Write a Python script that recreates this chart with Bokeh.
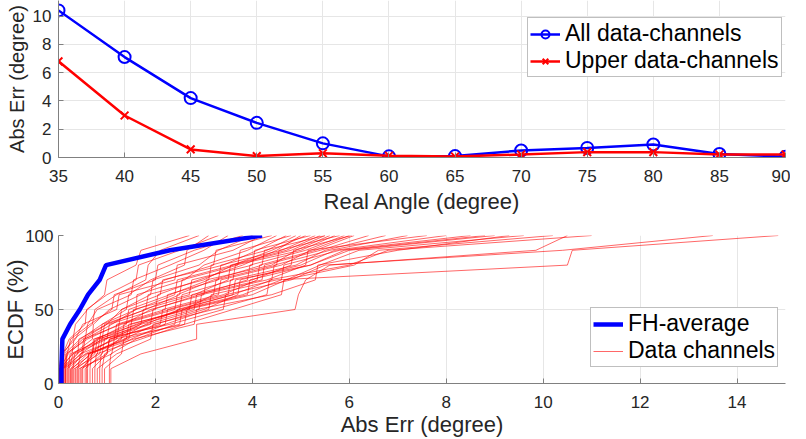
from bokeh.plotting import figure
from bokeh.layouts import column
from bokeh.models import Legend, LegendItem, FixedTicker, Range1d
from bokeh.embed import file_html
from bokeh.resources import INLINE

# ---------------- data: top panel ----------------
angles = [35, 40, 45, 50, 55, 60, 65, 70, 75, 80, 85, 90]
err_all = [10.4, 7.1, 4.2, 2.45, 1.0, 0.08, 0.1, 0.5, 0.68, 0.92, 0.25, 0.05]
err_upper = [6.8, 2.97, 0.57, 0.1, 0.3, 0.12, 0.07, 0.21, 0.38, 0.38, 0.21, 0.21]

# ---------------- data: bottom panel (sorted abs errors per channel) ----------------
ecdf_levels = [0, 10, 20, 30, 40, 50, 60, 70, 80, 90, 100]
fh_average = [0.06, 0.07, 0.08, 0.24, 0.44, 0.61, 0.85, 0.98, 2.3, 4.2]

ch01 = [0.02, 0.10, 0.30, 0.35, 0.60, 0.95, 1.00, 1.60, 1.70, 2.70]
ch02 = [0.05, 0.28, 0.32, 0.70, 0.75, 1.20, 1.80, 1.85, 2.10, 2.90]
ch03 = [0.10, 0.12, 0.45, 0.90, 1.40, 1.45, 1.90, 2.60, 2.65, 3.10]
ch04 = [0.03, 0.20, 0.55, 0.60, 0.80, 1.50, 1.55, 2.30, 3.00, 3.50]
ch05 = [0.15, 0.18, 0.25, 0.65, 1.10, 1.15, 2.00, 2.05, 2.80, 3.80]
ch06 = [0.08, 0.40, 0.42, 1.00, 1.30, 1.90, 1.95, 2.90, 3.30, 4.00]
ch07 = [0.01, 0.06, 0.35, 0.50, 1.20, 1.25, 2.40, 2.45, 3.60, 4.20]
ch08 = [0.22, 0.30, 0.70, 0.72, 1.05, 1.70, 2.20, 3.20, 3.25, 4.40]
ch09 = [0.06, 0.09, 0.22, 0.55, 0.58, 1.00, 1.60, 1.65, 2.50, 3.30]
ch10 = [0.25, 0.50, 0.55, 1.10, 1.60, 1.62, 2.60, 3.00, 3.90, 4.50]
ch11 = [0.12, 0.15, 0.60, 1.25, 1.30, 2.10, 2.15, 3.40, 4.10, 4.70]
ch12 = [0.40, 0.45, 0.90, 0.95, 1.80, 2.50, 2.55, 3.70, 3.75, 4.80]
ch13 = [0.05, 0.38, 0.80, 1.40, 1.45, 2.30, 3.10, 3.15, 4.30, 4.90]
ch14 = [0.30, 0.33, 1.00, 1.05, 2.00, 2.05, 2.90, 3.80, 4.50, 5.00]
ch15 = [0.50, 0.70, 0.75, 1.50, 1.55, 2.70, 2.75, 4.00, 4.05, 5.20]
ch16 = [0.18, 0.55, 1.15, 1.20, 2.20, 2.25, 3.30, 3.35, 4.60, 5.30]
ch17 = [0.60, 0.62, 1.10, 1.70, 1.75, 2.80, 3.50, 3.55, 4.70, 5.40]
ch18 = [0.08, 0.48, 0.52, 1.30, 2.40, 2.45, 3.20, 4.20, 4.25, 5.50]
ch19 = [0.35, 0.65, 1.30, 1.35, 1.90, 3.00, 3.05, 4.40, 4.90, 5.60]
ch20 = [0.85, 0.88, 1.25, 1.80, 2.50, 2.55, 3.60, 3.65, 5.00, 5.70]
ch21 = [0.45, 0.80, 0.85, 1.60, 2.60, 3.20, 3.25, 4.50, 4.55, 5.80]
ch22 = [0.20, 0.24, 0.95, 1.90, 1.95, 2.90, 3.90, 3.95, 5.10, 5.90]
ch23 = [0.70, 1.00, 1.05, 2.10, 2.15, 3.30, 3.35, 4.60, 5.20, 6.00]
ch24 = [0.28, 0.60, 1.40, 1.45, 2.70, 2.75, 4.00, 4.80, 4.85, 6.05]
ch25 = [0.90, 0.95, 1.50, 2.20, 2.25, 3.40, 4.10, 4.15, 5.30, 6.10]
ch26 = [0.02, 0.30, 0.85, 0.90, 1.60, 2.40, 2.45, 3.60, 4.40, 5.10]
ch27 = [0.14, 0.17, 0.50, 1.00, 1.80, 1.85, 3.00, 3.60, 4.80, 5.50]
ch28 = [0.55, 0.90, 0.95, 1.70, 2.80, 2.85, 4.20, 4.25, 5.40, 6.40]
ch29 = [0.15, 0.45, 1.20, 1.25, 2.30, 3.50, 3.55, 4.90, 5.50, 6.75]
ch30 = [1.05, 1.08, 1.60, 2.40, 2.45, 3.60, 4.40, 4.45, 5.60, 7.20]
ch31 = [0.38, 0.75, 0.80, 1.85, 2.90, 2.95, 4.30, 5.10, 5.15, 7.60]
ch32 = [0.65, 0.68, 1.35, 2.00, 3.00, 3.70, 3.75, 5.00, 5.70, 8.00]
ch33 = [0.95, 1.30, 1.35, 2.50, 2.55, 3.80, 4.60, 4.65, 5.80, 8.50]
ch34 = [0.10, 0.58, 1.45, 1.50, 2.60, 3.90, 3.95, 5.20, 6.00, 9.00]
ch35 = [0.75, 0.78, 1.70, 2.60, 2.65, 4.00, 4.70, 5.40, 6.20, 9.60]
ch36 = [1.08, 1.70, 2.85, 2.85, 4.88, 4.95, 5.10, 5.60, 9.85, 10.50]
ch37 = [0.48, 1.00, 1.05, 2.20, 3.10, 3.15, 4.50, 10.50, 10.60, 14.85]
ch38 = [0.80, 1.20, 1.90, 1.95, 3.20, 4.30, 4.35, 6.00, 6.80, 11.00]
ch39 = [0.32, 0.85, 0.90, 2.30, 3.40, 3.45, 4.80, 5.50, 10.40, 13.50]
ch40 = [0.58, 0.62, 1.55, 2.80, 2.85, 4.40, 5.30, 5.35, 7.00, 9.30]
ch41 = [0.42, 1.10, 1.15, 2.60, 3.60, 4.60, 4.65, 6.10, 6.60, 10.20]
ch42 = [0.26, 0.70, 0.72, 1.65, 2.50, 3.60, 3.65, 5.20, 5.90, 8.80]

channels = [ch01, ch02, ch03, ch04, ch05, ch06, ch07, ch08, ch09, ch10,
            ch11, ch12, ch13, ch14, ch15, ch16, ch17, ch18, ch19, ch20,
            ch21, ch22, ch23, ch24, ch25, ch26, ch27, ch28, ch29, ch30,
            ch31, ch32, ch33, ch34, ch35, ch36, ch37, ch38, ch39, ch40,
            ch41, ch42]

x_ticks_top = [35, 40, 45, 50, 55, 60, 65, 70, 75, 80, 85, 90]
y_ticks_top = [0, 2, 4, 6, 8, 10]
x_ticks_bot = [0, 2, 4, 6, 8, 10, 12, 14]
y_ticks_bot = [0, 50, 100]

FONT = "Liberation Sans"
TXT = "#262626"
AXC = "#808080"
GRID = "#e6e6e6"


def style(p, xt, yt, lab_std_x, lab_std_y, ttl_std_x, ttl_std_y, ytitle_size):
    p.outline_line_color = None
    p.xaxis.ticker = FixedTicker(ticks=xt)
    p.yaxis.ticker = FixedTicker(ticks=yt)
    for ax in (p.xaxis[0], p.yaxis[0]):
        ax.axis_line_color = AXC
        ax.major_tick_line_color = AXC
        ax.major_tick_in = 5
        ax.major_tick_out = 0
        ax.minor_tick_line_color = None
        ax.major_label_text_font = FONT
        ax.major_label_text_font_size = "17px"
        ax.major_label_text_color = TXT
        ax.axis_label_text_font = FONT
        ax.axis_label_text_font_size = "22px"
        ax.axis_label_text_font_style = "normal"
        ax.axis_label_text_color = TXT
    p.yaxis.axis_label_text_font_size = ytitle_size
    p.xaxis.major_label_standoff = lab_std_x
    p.yaxis.major_label_standoff = lab_std_y
    p.xaxis.axis_label_standoff = ttl_std_x
    p.yaxis.axis_label_standoff = ttl_std_y
    p.xgrid.ticker = FixedTicker(ticks=xt)
    p.ygrid.ticker = FixedTicker(ticks=yt)
    p.grid.grid_line_color = GRID
    p.grid.grid_line_width = 1


def style_legend(lg, x, y):
    lg.location = (x, y)
    lg.label_text_font = FONT
    lg.label_text_font_size = "23px"
    lg.label_text_color = "black"
    lg.padding = 2
    lg.spacing = 0
    lg.margin = 0
    lg.glyph_width = 30
    lg.label_standoff = 5
    lg.border_line_color = "#7f7f7f"
    lg.border_line_width = 1
    lg.background_fill_color = "white"
    lg.background_fill_alpha = 1.0


LEFT = 52

# ---------------- top figure ----------------
p1 = figure(width=790, height=220, output_backend="svg", toolbar_location=None,
            x_range=Range1d(35, 90), y_range=Range1d(0, 11.1),
            min_border_left=LEFT, min_border_right=1, min_border_top=0,
            min_border_bottom=63)
style(p1, x_ticks_top, y_ticks_top, 12, 7, 4, 2, "20px")
p1.xaxis.axis_label = "Real Angle (degree)"
p1.yaxis.axis_label = "Abs Err (degree)"

l_all = p1.line(angles, err_all, line_color="#0000ff", line_width=2.5)
s_all = p1.scatter(angles, err_all, marker="circle", size=12, line_color="#0000ff",
                   line_width=2, fill_color=None)
l_up = p1.line(angles, err_upper, line_color="#ff0000", line_width=2.5)
s_up = p1.scatter(angles, err_upper, marker="x", size=11, line_color="#ff0000",
                  line_width=2)

lg1 = Legend(items=[LegendItem(label="All data-channels", renderers=[l_all, s_all]),
                    LegendItem(label="Upper data-channels", renderers=[l_up, s_up])])
style_legend(lg1, 469, 80)
p1.add_layout(lg1, "center")

# ---------------- bottom figure ----------------
p2 = figure(width=790, height=219, output_backend="svg", toolbar_location=None,
            x_range=Range1d(0, 15), y_range=Range1d(0, 100),
            min_border_left=LEFT, min_border_right=5, min_border_top=15,
            min_border_bottom=56)
style(p2, x_ticks_bot, y_ticks_bot, 12, 5, 1, -6, "22px")
p2.xaxis.axis_label = "Abs Err (degree)"
p2.yaxis.axis_label = "ECDF (%)"

xs = [[c[0]] + list(c) for c in channels]
ys = [list(ecdf_levels) for _ in channels]
r_red = p2.multi_line(xs, ys, line_color="#ff0000", line_width=0.6)
r_blue = p2.line([fh_average[0]] + fh_average, ecdf_levels, line_color="#0000ff",
                 line_width=4.5)

lg2 = Legend(items=[LegendItem(label="FH-average", renderers=[r_blue]),
                    LegendItem(label="Data channels", renderers=[r_red])])
style_legend(lg2, 532, 16)
p2.add_layout(lg2, "center")

layout = column(p1, p2, spacing=0)
open("out.html", "w").write(file_html(layout, INLINE))
